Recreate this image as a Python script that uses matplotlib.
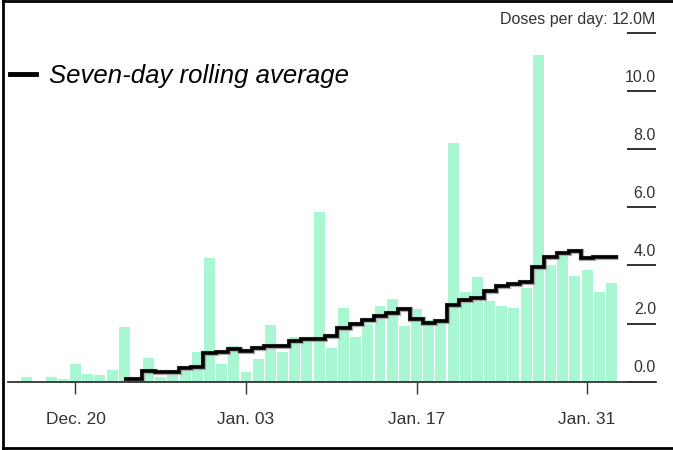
import numpy as np
import pandas as pd
import matplotlib
matplotlib.use("Agg")
import matplotlib.pyplot as plt
import matplotlib.dates as mdates
from matplotlib.lines import Line2D

plt.rcParams['font.family'] = ['Liberation Sans Narrow', 'Liberation Sans', 'DejaVu Sans']

# daily doses (millions), Dec 16 .. Feb 2
days = pd.date_range("2020-12-16", "2021-02-02", freq="D")
doses = [0.17, 0.0, 0.17, 0.11, 0.60, 0.26, 0.22, 0.39, 1.89, 0.0,
         0.83, 0.17, 0.31, 0.54, 1.01, 4.25, 0.60, 1.23, 0.32, 0.77,
         1.95, 1.01, 1.55, 1.44, 5.85, 1.15, 2.53, 1.55, 1.98, 2.62,
         2.85, 1.90, 2.49, 2.13, 2.03, 8.23, 3.10, 3.62, 2.78, 2.62,
         2.55, 3.24, 11.23, 4.00, 4.39, 3.64, 3.85, 3.08, 3.39]

# seven-day rolling average, Dec 24 .. Feb 2
avg_days = pd.date_range("2020-12-24", "2021-02-02", freq="D")
avg = [0.09, 0.09, 0.37, 0.32, 0.32, 0.46, 0.52, 0.98, 1.01, 1.13,
       1.06, 1.17, 1.24, 1.24, 1.40, 1.47, 1.47, 1.56, 1.84, 1.98,
       2.12, 2.26, 2.37, 2.49, 2.15, 2.01, 2.09, 2.64, 2.81, 2.87,
       3.13, 3.30, 3.35, 3.44, 3.96, 4.30, 4.42, 4.50, 4.25, 4.30, 4.28]

tick_dates = pd.to_datetime(["2020-12-20", "2021-01-03", "2021-01-17", "2021-01-31"])
tick_labels = ["Dec. 20", "Jan. 03", "Jan. 17", "Jan. 31"]
y_ticks = [0, 2, 4, 6, 8, 10, 12]
y_labels = ["0.0", "2.0", "4.0", "6.0", "8.0", "10.0", "12.0M"]

W, H = 673, 450
fig = plt.figure(figsize=(W / 100, H / 100), dpi=100)
ax = fig.add_axes([8 / W, 68.3 / H, (656 - 8) / W, (417 - 68.3) / H])

x = mdates.date2num(days)
ax.bar(x, doses, width=0.9, color="#a8f7d2", zorder=1)

xa = mdates.date2num(avg_days)
edges = np.append(xa - 0.5, xa[-1] + 0.5)
edges[0] = xa[0]
ax.stairs(avg, edges, color="#aaaaaa", lw=3.8, baseline=None, zorder=2)
ax.stairs(avg, edges, color="black", lw=2.6, baseline=None, zorder=3)

j3 = mdates.date2num(pd.Timestamp("2021-01-03"))
ax.set_xlim(j3 - 19.54, j3 + 33.66)
ax.set_ylim(0, 12)

for s in ["top", "left", "right"]:
    ax.spines[s].set_visible(False)
ax.spines["bottom"].set_color("#333333")
ax.spines["bottom"].set_linewidth(1.3)

ax.set_xticks(mdates.date2num(tick_dates))
ax.set_xticklabels(tick_labels, fontsize=12.5, color="#333333")
ax.tick_params(axis="x", length=8.5, width=1.0, color="#333333", pad=13)
ax.set_yticks([])

# right-hand value labels with underline ticks
ytrans = ax.get_yaxis_transform()
for v, lab in zip(y_ticks, y_labels):
    ax.plot([0.955, 1.0], [v, v], transform=ytrans,
            color="#222222", lw=1.3, clip_on=False, solid_capstyle="butt")
    t = ax.text(1.0, v + 0.22, lab, transform=ytrans,
                ha="right", va="bottom", fontsize=11.5, color="#333333")
ax.annotate("Doses per day: ", xy=(0, 0), xycoords=t,
            ha="right", va="bottom", fontsize=11.5, color="#333333")

# legend
handle = Line2D([], [], color="black", lw=3.5)
leg = fig.legend([handle], ["Seven-day rolling average"], loc="upper left",
                 bbox_to_anchor=(0.0, 0.88), frameon=False, handlelength=1.0,
                 handletextpad=0.5, borderaxespad=0.0,
                 prop={"family": ["Liberation Sans", "DejaVu Sans"],
                       "style": "italic", "size": 18.5})

# outer frame
frame_kw = dict(color="black", lw=2.0, transform=fig.transFigure)
fig.add_artist(Line2D([2.5 / W, 2.5 / W], [2 / H, 1 - 1 / H], **frame_kw))
fig.add_artist(Line2D([2.5 / W, 1], [1 - 1 / H, 1 - 1 / H], **frame_kw))
fig.add_artist(Line2D([2.5 / W, 1], [2 / H, 2 / H], **frame_kw))

fig.savefig("out.png", dpi=100)
